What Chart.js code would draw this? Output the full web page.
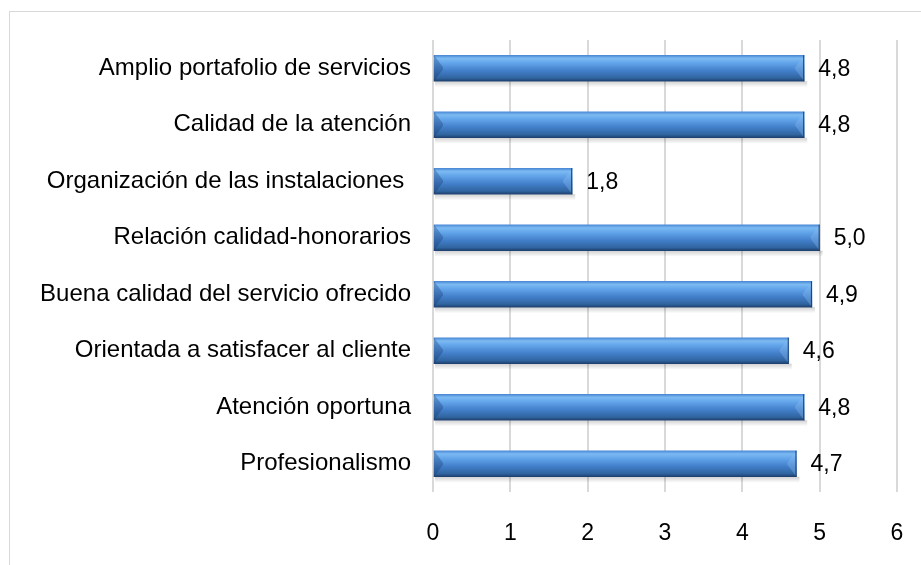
<!DOCTYPE html>
<html>
<head>
<meta charset="utf-8">
<script src="https://cdn.jsdelivr.net/npm/chart.js@4.4.1/dist/chart.umd.min.js"></script>
<style>
  html, body { margin: 0; padding: 0; background: #fff; overflow: hidden; }
  #frame { position: absolute; left: 9px; top: 11px; width: 1000px; height: 700px; border: 1px solid #d9d9d9; }
  #wrap { position: absolute; left: 0; top: 0; width: 921px; height: 565px; }
</style>
</head>
<body>
<div id="frame"></div>
<div id="wrap"><canvas id="chart"></canvas></div>
<script>
const categories = [
  'Amplio portafolio de servicios',
  'Calidad de la atención',
  'Organización de las instalaciones ',
  'Relación calidad-honorarios',
  'Buena calidad del servicio ofrecido',
  'Orientada a satisfacer al cliente',
  'Atención oportuna',
  'Profesionalismo'
];
const scores = [4.8, 4.8, 1.8, 5.0, 4.9, 4.6, 4.8, 4.7];
const xTicks = [0, 1, 2, 3, 4, 5, 6];

const FONT = '"Liberation Sans", Arial, sans-serif';
const HALF = 13;

function barGradient(context) {
  const chart = context.chart;
  const y = chart.scales.y;
  if (!y || !chart.chartArea) return '#3d7bc6';
  const c = y.getPixelForValue(context.dataIndex);
  const g = chart.ctx.createLinearGradient(0, c - HALF, 0, c + HALF);
  g.addColorStop(0, '#4a88d6');
  g.addColorStop(0.12, '#7cbaf2');
  g.addColorStop(0.3, '#62a4ea');
  g.addColorStop(0.6, '#427fca');
  g.addColorStop(0.88, '#30649f');
  g.addColorStop(1, '#1d3f6e');
  return g;
}

// shadow under bars, end bevels and value labels
const barDeco = {
  id: 'barDeco',
  beforeDatasetsDraw(chart) {
    const ctx = chart.ctx;
    ctx.save();
    chart.getDatasetMeta(0).data.forEach(bar => {
      const top = bar.y - bar.height / 2;
      const g = ctx.createLinearGradient(0, top + bar.height, 0, top + bar.height + 6);
      g.addColorStop(0, 'rgba(0,0,0,0.18)');
      g.addColorStop(1, 'rgba(0,0,0,0)');
      ctx.fillStyle = g;
      ctx.fillRect(bar.base + 1, top + bar.height, bar.x - bar.base + 2, 6);
    });
    ctx.restore();
  },
  afterDatasetsDraw(chart) {
    const ctx = chart.ctx;
    ctx.save();
    chart.getDatasetMeta(0).data.forEach((bar, i) => {
      const top = bar.y - bar.height / 2;
      const bot = bar.y + bar.height / 2;
      const b = 9;
      // left bevel
      ctx.fillStyle = 'rgba(20,50,100,0.3)';
      ctx.beginPath();
      ctx.moveTo(bar.base, top);
      ctx.lineTo(bar.base + b, bar.y - 1);
      ctx.lineTo(bar.base + b, bar.y + 1);
      ctx.lineTo(bar.base, bot);
      ctx.closePath();
      ctx.fill();
      // right bevel
      ctx.fillStyle = 'rgba(140,190,240,0.35)';
      ctx.beginPath();
      ctx.moveTo(bar.x, top);
      ctx.lineTo(bar.x - b, bar.y - 1);
      ctx.lineTo(bar.x - b, bar.y + 1);
      ctx.lineTo(bar.x, bot);
      ctx.closePath();
      ctx.fill();
      ctx.strokeStyle = '#1d3f6e';
      ctx.lineWidth = 1;
      ctx.beginPath();
      ctx.moveTo(bar.x - 0.5, top);
      ctx.lineTo(bar.x - 0.5, bot);
      ctx.stroke();
      // value label
      ctx.fillStyle = '#000';
      ctx.font = '23px ' + FONT;
      ctx.textAlign = 'left';
      ctx.textBaseline = 'middle';
      ctx.fillText(scores[i].toFixed(1).replace('.', ','), bar.x + 14, bar.y + 1);
    });
    ctx.restore();
  }
};

new Chart(document.getElementById('chart'), {
  type: 'bar',
  data: {
    labels: categories,
    datasets: [{
      data: scores,
      backgroundColor: barGradient,
      borderWidth: 0,
      barThickness: 26
    }]
  },
  plugins: [barDeco],
  options: {
    indexAxis: 'y',
    responsive: true,
    maintainAspectRatio: false,
    animation: false,
    layout: { padding: { top: 40, right: 24, bottom: 0, left: 0 } },
    plugins: { legend: { display: false }, tooltip: { enabled: false } },
    scales: {
      x: {
        min: 0,
        max: 6,
        afterBuildTicks: s => { s.ticks = xTicks.map(v => ({ value: v })); },
        grid: { color: '#d9d9d9', lineWidth: 2, drawTicks: true, tickLength: 25, tickColor: 'rgba(0,0,0,0)' },
        border: { display: false },
        ticks: { color: '#000', padding: 3, font: { family: FONT, size: 23 } },
        afterFit: s => { s.height = 73; }
      },
      y: {
        grid: { display: false },
        border: { display: false },
        ticks: { color: '#000', padding: 14, font: { family: FONT, size: 24 } },
        afterFit: s => { s.width = 433; }
      }
    }
  }
});
</script>
</body>
</html>
